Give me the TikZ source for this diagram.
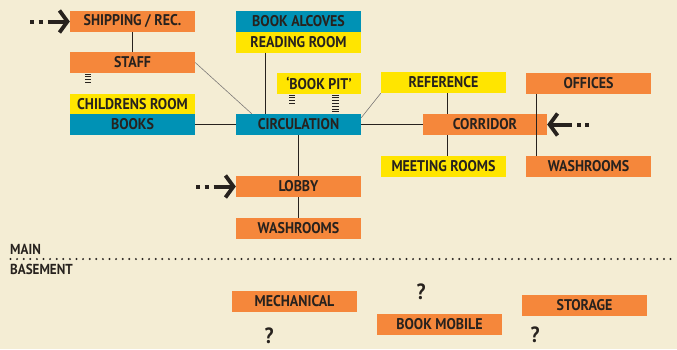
\documentclass[tikz,border=0pt]{standalone}
\usepackage{fontspec}
\setmainfont{PT Sans}[BoldFont={PT Sans Bold},BoldFeatures={FakeStretch=0.9}]
\usetikzlibrary{arrows.meta}
\definecolor{bg}{HTML}{F4EDD4}
\definecolor{org}{HTML}{F5873B}
\definecolor{blu}{HTML}{0092B5}
\definecolor{yel}{HTML}{FFE500}
\definecolor{ink}{HTML}{27221E}
\tikzset{
  room/.style={minimum width=125pt,minimum height=21pt,inner sep=0pt,text=ink,
    font=\fontsize{15.5}{17}\selectfont\bfseries},
  orange/.style={room,fill=org},
  blue/.style={room,fill=blu},
  yellow/.style={room,fill=yel},
  link/.style={draw=ink,line width=1pt},
  faint/.style={draw=ink!60,line width=0.6pt},
  entry/.style={draw=ink,line width=4pt,dash pattern=on 4pt off 4.5pt on 4pt off 5pt on 40pt,
    -{Straight Barb[length=8pt,width=22pt,line width=3.8pt]}},
  lab/.style={text=ink,font=\fontsize{14.5}{16}\selectfont\bfseries,anchor=west,inner sep=0pt},
  qm/.style={text=ink,font=\fontsize{22}{24}\selectfont\bfseries,inner sep=0pt}
}
\begin{document}
\begin{tikzpicture}[x=1pt,y=-1pt]
\fill[bg] (0,0) rectangle (677,349);
\useasboundingbox (0,0) rectangle (677,349);
% main floor
\node[orange] (ship) at (132.5,21.5) {SHIPPING / REC.};
\node[orange] (staff) at (132.5,62.5) {STAFF};
\node[yellow] (child) at (132.5,104) {CHILDRENS ROOM};
\node[blue] (books) at (132.5,124.5) {BOOKS};
\node[blue] (alc) at (298.5,21.5) {BOOK ALCOVES};
\node[yellow] (read) at (298.5,42) {READING ROOM};
\node[yellow,minimum width=84pt] (pit) at (319,83) {`BOOK PIT'};
\node[blue] (circ) at (298.5,124.5) {CIRCULATION};
\node[yellow] (ref) at (443.5,82.5) {REFERENCE};
\node[orange] (off) at (588.5,83) {OFFICES};
\node[orange,minimum width=124pt] (corr) at (485,124.5) {CORRIDOR};
\node[yellow] (meet) at (443.5,166.5) {MEETING ROOMS};
\node[orange] (wr1) at (588.5,166.5) {WASHROOMS};
\node[orange] (lobby) at (298.5,186.5) {LOBBY};
\node[orange] (wr2) at (298.5,228.5) {WASHROOMS};
% connectors
\draw[link] (ship.south) -- (staff.north);
\draw[link] (books.east) -- (circ.west);
\draw[link] (circ.east) -- (corr.west);
\draw[link] (read.south -| 265,0) -- (circ.north -| 265,0);
\draw[link] (circ.south) -- (lobby.north);
\draw[link] (lobby.south) -- (wr2.north);
\draw[link] (ref.south -| 447,0) -- (corr.north -| 447,0);
\draw[link] (corr.south -| 447,0) -- (meet.north -| 447,0);
\draw[link] (off.south -| 536,0) -- (wr1.north -| 536,0);
\draw[faint] (staff.east) -- ([xshift=16pt]circ.north west);
\draw[faint] ([yshift=-4pt]circ.north east) -- (ref.south west);
% entries
\coordinate (e1) at (30,21.5);
\coordinate (e2) at (589,124.5);
\coordinate (e3) at (196,186.5);
\draw[entry] (e1) -- (ship.west);
\draw[entry] (e2) -- (corr.east);
\draw[entry] (e3) -- (lobby.west);
% stairs
\foreach \k in {0,...,3} \draw[ink,line width=0.8pt] (85,{74+\k*2.8}) -- (91,{74+\k*2.8});
\foreach \k in {0,...,3} \draw[ink,line width=0.8pt] (289,{95+\k*2.8}) -- (295,{95+\k*2.8});
\foreach \k in {0,...,6} \draw[ink,line width=0.8pt] (332,{95+\k*2.8}) -- (339,{95+\k*2.8});
% floor divider
\node[lab] (main) at (10,249) {MAIN};
\node[lab] (base) at (10,269) {BASEMENT};
\draw[ink,line width=2.2pt,line cap=round,dash pattern=on 0pt off 6.6pt] (10.5,259) -- (677,259);
% basement
\node[orange] (mech) at (294.5,301.5) {MECHANICAL};
\node[orange] (mob) at (439.5,324.5) {BOOK MOBILE};
\node[orange] (stor) at (584.5,305.5) {STORAGE};
\node[qm] (q1) at (421,292) {?};
\node[qm] (q2) at (269,335.5) {?};
\node[qm] (q3) at (535,334.5) {?};
\end{tikzpicture}
\end{document}
